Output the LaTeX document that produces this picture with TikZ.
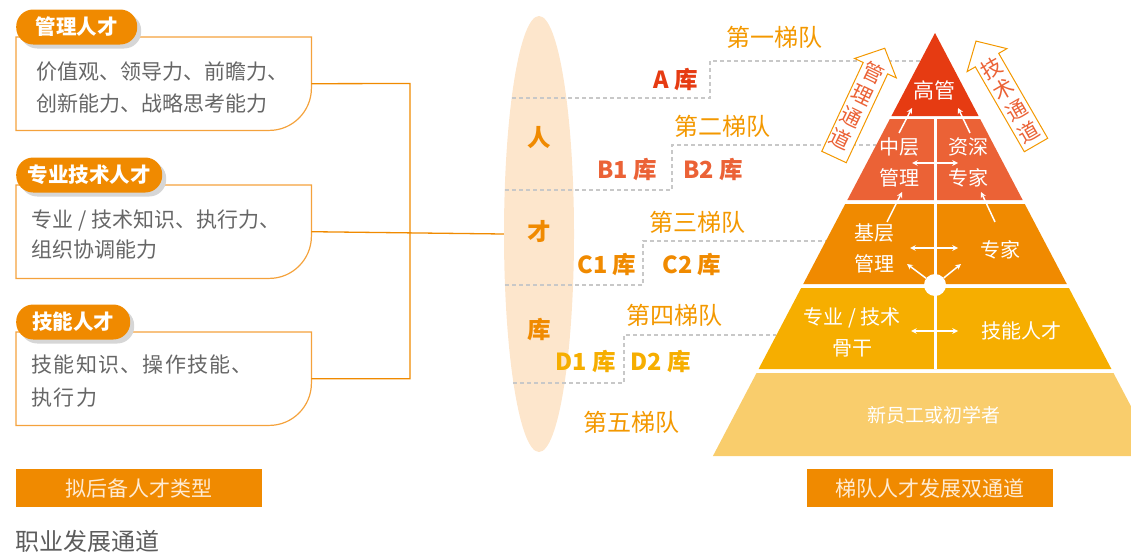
\documentclass[tikz,border=0pt]{standalone}
\usepackage{fontspec}
\setmainfont{Noto Sans CJK SC}
\usetikzlibrary{shapes.geometric,shadows}

\definecolor{orgA}{HTML}{F08A00}
\definecolor{orgL}{HTML}{F4A23C}
\definecolor{orgT}{HTML}{F39800}
\definecolor{redA}{HTML}{E63B12}
\definecolor{redB}{HTML}{EB6236}
\definecolor{ambD}{HTML}{F6AE00}
\definecolor{lightE}{HTML}{F9CD6C}
\definecolor{peach}{HTML}{FDE6CC}
\definecolor{greyT}{HTML}{666666}
\definecolor{greyD}{HTML}{C8C8C8}
\definecolor{pale}{HTML}{FFEBD2}

\tikzset{
  pill/.style={fill=orgA, text=white, font=\bfseries\fontsize{20.5}{20.5}\selectfont,
    rounded corners=17pt, minimum height=35pt, inner sep=0pt, anchor=west,
    drop shadow={shadow xshift=4pt, shadow yshift=-4pt, fill=black!16, opacity=1}},
  tbox/.style={draw=none, anchor=north west, inner sep=0pt},
  boxline/.style={draw=orgL, line width=1.2pt},
  desc/.style={text=greyT, anchor=west, align=left, font=\fontsize{21}{32}\selectfont},
  link/.style={draw=orgA, line width=1.3pt},
  tag/.style={fill=orgA, text=pale, minimum width=246pt, minimum height=38pt,
    font=\fontsize{21}{21}\selectfont},
  stair/.style={draw=greyD, line width=1.2pt, dash pattern=on 4pt off 3pt},
  tier/.style={text=orgT, font=\fontsize{24}{24}\selectfont},
  pool/.style={font=\bfseries\fontsize{23.5}{23.5}\selectfont},
  ptext/.style={text=white, align=center, font=\fontsize{20}{31}\selectfont},
  warrow/.style={white, line width=1.5pt, ->, >=stealth},
  chan/.style={draw=orgT, fill=white, line width=1pt},
  chantext/.style={text=redB, align=center, font=\fontsize{21}{24.5}\selectfont}
}

% outline with one round corner
\newcommand\tabbox[1]{\draw[boxline] (#1.south west) -- (#1.north west) -- (#1.north east)
  -- ([yshift=42pt]#1.south east) .. controls ([yshift=19pt]#1.south east) and ([xshift=-19pt]#1.south east)
  .. ([xshift=-42pt]#1.south east) -- cycle;}

\begin{document}
\begin{tikzpicture}[x=1pt,y=-1pt]
  \useasboundingbox (0,0) rectangle (1131,552);
  \clip (0,0) rectangle (1131,552);

  % talent types
  \node[tbox, minimum width=295pt, minimum height=93pt] (b1) at (16,37) {};
  \node[tbox, minimum width=295pt, minimum height=93pt] (b2) at (16,185) {};
  \node[tbox, minimum width=295pt, minimum height=93pt] (b3) at (16,332) {};
  \tabbox{b1}
  \tabbox{b2}
  \tabbox{b3}
  \node[desc] (t1) at (33,88) {价值观、领导力、前瞻力、\\创新能力、战略思考能力};
  \node[desc, font=\fontsize{21}{30}\selectfont] (t2) at (28,235) {专业 / 技术知识、执行力、\\组织协调能力};
  \node[desc, font=\fontsize{21}{33}\selectfont\addfontfeature{LetterSpace=6}] (t3) at (28,381) {技能知识、操作技能、\\执行力};
  \node[pill, minimum width=121pt] (p1) at (16,27) {管理人才};
  \node[pill, minimum width=146pt] (p2) at (16,175) {专业技术人才};
  \node[pill, minimum width=114pt] (p3) at (16,322) {技能人才};

  \node[tag] (k1) at (139,488) {拟后备人才类型};
  \node[text=greyT!90!black, anchor=west, font=\fontsize{24}{24}\selectfont] (cp) at (12,541) {职业发展通道};

  % talent pool
  \node[ellipse, fill=peach, minimum width=70pt, minimum height=436pt, inner sep=0pt] (pool) at (539,234) {};
  \coordinate (jt) at (410,83.5);
  \draw[link] (b1.east) -- (jt) |- (b3.east);
  \draw[link] (b2.east) -- (pool.west);
  \node[pool, text=orgA] (r1) at (539,138) {人};
  \node[pool, text=orgA] (r2) at (539,232) {才};
  \node[pool, text=orgA] (r3) at (539,330) {库};

  % stairs
  \draw[stair] (512,98) -| (710,61) -- (920,61);
  \draw[stair] (505,190) -| (672,145) -- (876,145);
  \draw[stair] (505,285) -| (643,241) -- (826,241);
  \draw[stair] (513,383) -| (624,335) -- (776,335);

  \node[tier] (e1) at (774,37) {第一梯队};
  \node[tier] (e2) at (722,126) {第二梯队};
  \node[tier] (e3) at (697,222) {第三梯队};
  \node[tier] (e4) at (674,315) {第四梯队};
  \node[tier] (e5) at (631,422) {第五梯队};
  \node[pool, text=redA] (la) at (676,80) {A 库};
  \node[pool, text=redB] (lb1) at (627,170) {B1 库};
  \node[pool, text=redB] (lb2) at (713,170) {B2 库};
  \node[pool, text=orgA] (lc1) at (607,265) {C1 库};
  \node[pool, text=orgA] (lc2) at (692,265) {C2 库};
  \node[pool, text=ambD] (ld1) at (586,362) {D1 库};
  \node[pool, text=ambD] (ld2) at (661,362) {D2 库};

  % pyramid
  \foreach \t/\b/\c in {33/116/redA, 119/200/redB, 204/284/orgA, 288/369/ambD, 373/456/lightE}
    \fill[\c] ({935-0.525*(\t-33)},\t) -- ({935+0.525*(\t-33)},\t)
      -- ({935+0.525*(\b-33)},\b) -- ({935-0.525*(\b-33)},\b) -- cycle;
  \draw[white, line width=3pt] (935,119) -- (935,369);
  \node[circle, fill=white, minimum size=22pt, inner sep=0pt] (hub) at (935,285) {};

  \node[ptext, font=\fontsize{21}{31}\selectfont] (n1) at (934,90) {高管};
  \node[ptext] (n2) at (899,162) {中层\\管理};
  \node[ptext] (n3) at (968,162) {资深\\专家};
  \node[ptext] (n4) at (874,248) {基层\\管理};
  \node[ptext] (n5) at (1000,250) {专家};
  \node[ptext] (n6) at (852,332) {专业 / 技术\\骨干};
  \node[ptext] (n7) at (1021,331) {技能人才};
  \node[ptext, font=\fontsize{19}{31}\selectfont] (n8) at (934,415) {新员工或初学者};

  \coordinate (m2l) at (912,163); \coordinate (m2r) at (958,163);
  \coordinate (m3l) at (910,248); \coordinate (m3r) at (958,248);
  \coordinate (m4l) at (911,331); \coordinate (m4r) at (958,331);
  \coordinate (hl) at (907,264);  \coordinate (hr) at (961,264);
  \coordinate (u3l) at (887,222); \coordinate (v3l) at (902,192);
  \coordinate (u3r) at (995,222); \coordinate (v3r) at (981,192);
  \coordinate (u2l) at (899,133); \coordinate (v2l) at (912,108);
  \coordinate (u2r) at (970,133); \coordinate (v2r) at (958,108);
  \draw[warrow, <->] (m2l) -- (m2r);
  \draw[warrow, <->] (m3l) -- (m3r);
  \draw[warrow, <->] (m4l) -- (m4r);
  \draw[warrow] (hub) -- (hl);
  \draw[warrow] (hub) -- (hr);
  \draw[warrow] (u3l) -- (v3l);
  \draw[warrow] (u3r) -- (v3r);
  \draw[warrow] (u2l) -- (v2l);
  \draw[warrow] (u2r) -- (v2r);

  % channels
  \begin{scope}[shift={(834,157)}, rotate=65]
    \draw[chan] (0,-13.5) -- (98,-13.5) -- (98,-23) -- (120,0) -- (98,23) -- (98,13.5) -- (0,13.5) -- cycle;
  \end{scope}
  \begin{scope}[shift={(1036,145)}, rotate=120]
    \draw[chan] (0,-13.5) -- (98,-13.5) -- (98,-23) -- (120,0) -- (98,23) -- (98,13.5) -- (0,13.5) -- cycle;
  \end{scope}
  \node[chantext, rotate=-26] (c1) at (857,106) {管\\理\\通\\道};
  \node[chantext, rotate=30] (c2) at (1010,100) {技\\术\\通\\道};

  \node[tag] (k2) at (930,488) {梯队人才发展双通道};
\end{tikzpicture}
\end{document}
